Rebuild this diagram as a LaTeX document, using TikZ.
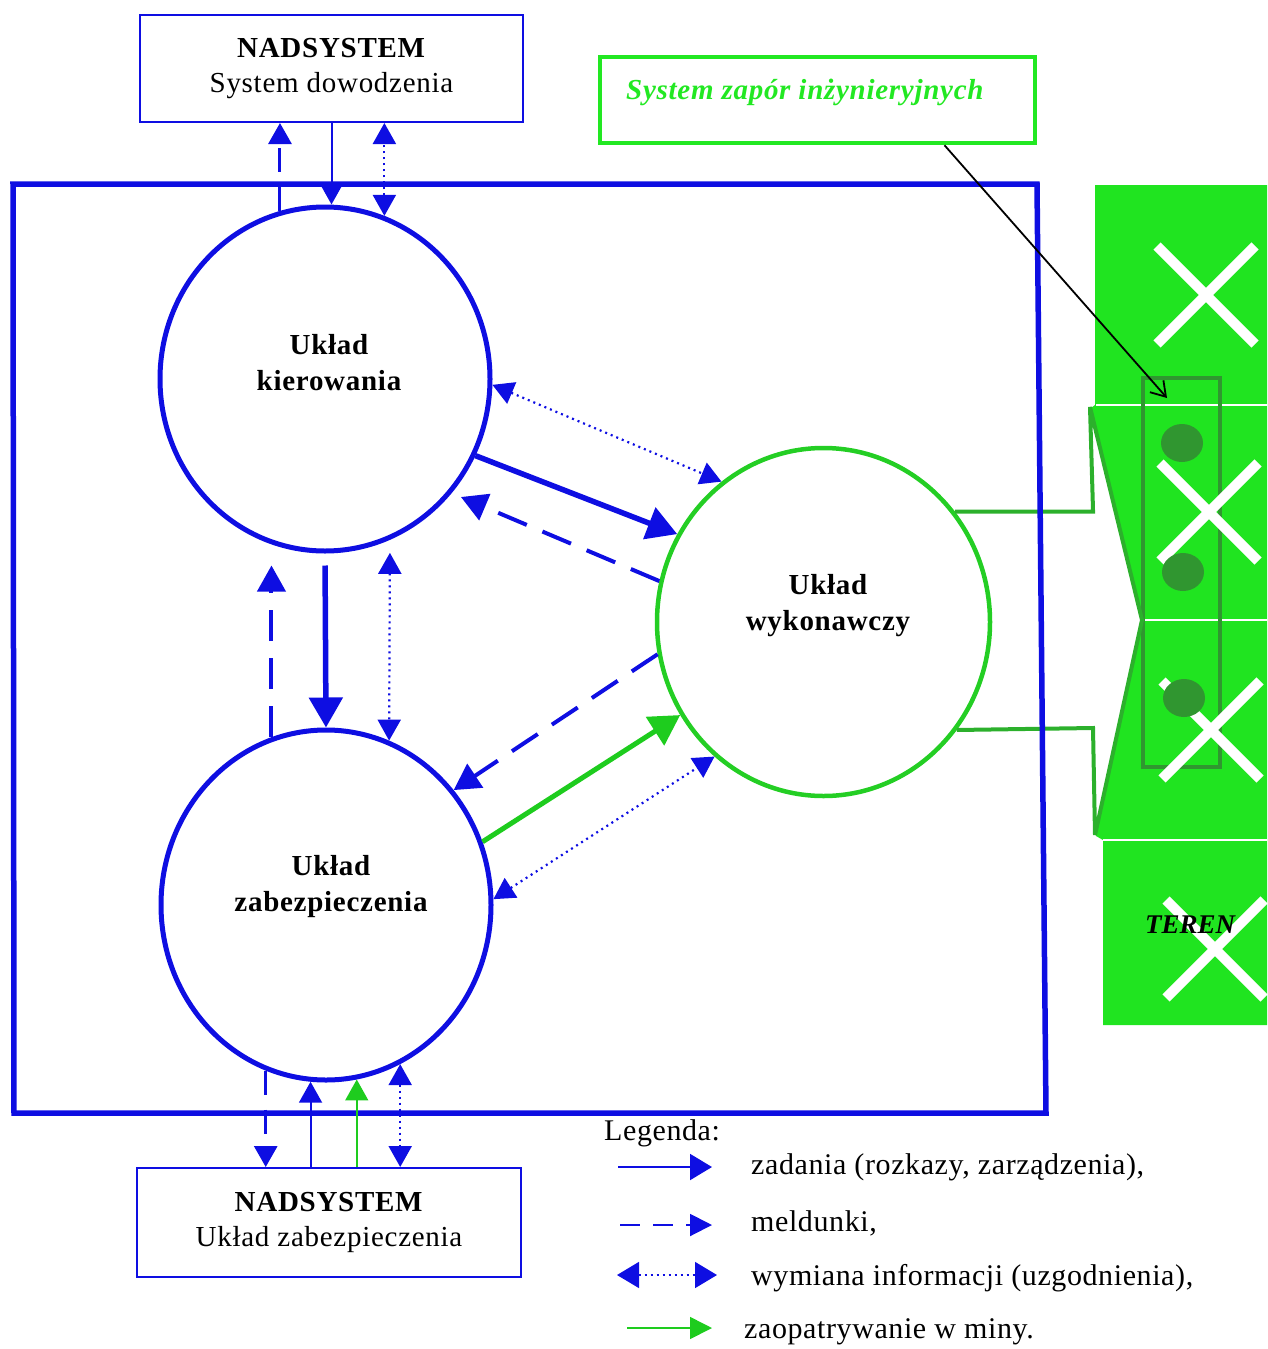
\documentclass[tikz,border=0pt]{standalone}
\usepackage{fontspec}
\setmainfont{Liberation Serif}[LetterSpace=2.5]
\usetikzlibrary{arrows.meta,shapes.geometric}

\definecolor{linkblue}{RGB}{14,14,226}
\definecolor{unitgreen}{RGB}{36,206,36}
\definecolor{framegreen}{RGB}{34,232,34}
\definecolor{terraingreen}{RGB}{32,228,32}
\definecolor{wedgegreen}{RGB}{44,176,44}
\definecolor{minegreen}{RGB}{48,150,48}
\definecolor{supplygreen}{RGB}{30,204,30}

\tikzset{
  headS/.tip={Triangle[length=21pt,width=23pt]},
  headM/.tip={Triangle[length=26pt,width=28pt]},
  headL/.tip={Triangle[length=30pt,width=33pt]},
  unit/.style={ellipse, draw=linkblue, line width=5pt, inner sep=0pt,
               minimum width=330pt, minimum height=344pt},
  unitname/.style={font=\bfseries\fontsize{29}{36}\selectfont, align=center, inner sep=0pt},
  supersys/.style={draw=linkblue, line width=2pt, minimum width=383pt, minimum height=107pt,
                   align=center, inner sep=0pt, font=\fontsize{29}{35}\selectfont},
  order/.style={draw=linkblue, fill=linkblue, line width=2pt, -{headS}},
  orderbig/.style={draw=linkblue, fill=linkblue, line width=5.5pt, -{headL}},
  report/.style={draw=linkblue, line width=3pt, dash pattern=on 24pt off 15pt, -{headS}},
  reportbig/.style={draw=linkblue, line width=4pt, dash pattern=on 31pt off 17pt, -{headM}},
  exchange/.style={draw=linkblue, line width=2.2pt, dash pattern=on 2pt off 4pt, {headS}-{headS}},
  supplybig/.style={draw=supplygreen, line width=5pt, -{headL}},
  supply/.style={draw=supplygreen, line width=1.6pt, -{headS}},
  legendtext/.style={anchor=west, inner sep=0pt,
                     font=\fontsize{30}{34}\selectfont\addfontfeature{LetterSpace=2}},
}

\begin{document}
\begin{tikzpicture}[x=1pt,y=-1pt]
\useasboundingbox (0,0) rectangle (1267,1349);

% terrain strip with the minefield
\fill[terraingreen] (1095,185) -- (1267,185) -- (1267,1025) -- (1103,1025) -- (1103,840)
  -- (1096,836) -- (1142,620) -- (1091,408) -- (1095,405) -- cycle;
\draw[white, line width=2pt] (1096,405) -- (1267,405);
\draw[white, line width=2pt] (1142,620) -- (1267,620);
\draw[white, line width=2pt] (1103,840) -- (1267,840);
\node[draw=minegreen, line width=4pt, minimum width=77pt, minimum height=389pt, inner sep=0pt]
  (minefield) at (1181.5,572.5) {};
\foreach \cx/\cy in {1206/295, 1209/512, 1211/730, 1215/949}
  \draw[white, line width=10pt] ({\cx-49},{\cy-49}) -- ({\cx+49},{\cy+49})
                                ({\cx-49},{\cy+49}) -- ({\cx+49},{\cy-49});
\foreach \mx/\my in {1182/443, 1183/572, 1184/698}
  \fill[minegreen] (\mx,\my) ellipse [x radius=21pt, y radius=19pt];
\node[font=\bfseries\itshape\fontsize{27}{30}\selectfont, inner sep=0pt] (teren) at (1190,925)
  {\addfontfeature{LetterSpace=0}TEREN};

% units
\node[unit] (kier) at (325,379) {};
\node[unit, minimum height=350pt, minimum width=330pt] (zab) at (326,905) {};
\node[unit, draw=unitgreen, line width=4.5pt, minimum width=333pt, minimum height=348pt] (wyk) at (823.5,622) {};
\node[unitname] (kierlbl) at (329,363) {Układ\\kierowania};
\node[unitname] (zablbl) at (331,887) {Układ\\zabezpieczenia};
\node[unitname] (wyklbl) at (828,606) {Układ\\wykonawczy};

% the executive unit pushing into the terrain
\draw[wedgegreen, line width=4pt, line join=miter, miter limit=3] (wyk.40) -- ++(138,0) -- (1090,407)
  -- (1142,620) -- (1095,835) -- (1093,728) -- (wyk.-39);

% system boundary
\draw[linkblue, line width=5.5pt] (13,184) -- (1037,184) -- (1046,1113) -- (14,1113) -- cycle;

% higher-level systems
\node[supersys] (topbox) at (331.5,68.5) {\textbf{NADSYSTEM}\\System dowodzenia};
\node[supersys, minimum width=384pt, minimum height=109pt] (botbox) at (329,1222.5)
  {\textbf{NADSYSTEM}\\Układ zabezpieczenia};

% engineering obstacle system
\node[draw=framegreen, line width=4.5pt, minimum width=435pt, minimum height=86pt, inner sep=0pt]
  (sysz) at (817.5,100) {};
\node[anchor=west, inner sep=0pt, text=framegreen, font=\bfseries\itshape\fontsize{29}{32}\selectfont]
  (syszlbl) at (626,92) {System zapór inżynieryjnych};
\coordinate (minetip) at (1167,398);
\draw[black, line width=1.8pt, -{Straight Barb[length=14pt,width=18pt]}]
  ([xshift=127pt]sysz.south) -- (minetip);

% links with the command system
\draw[report] (kier.105) -- (kier.105 |- topbox.south);
\draw[order] (topbox.south) -- (topbox.south |- kier.north);
\draw[exchange] (kier.70) -- (kier.70 |- topbox.south);

% links between control and security
\draw[reportbig, shorten >=12pt] (zab.108) -- (zab.108 |- kier.south);
\draw[orderbig, shorten <=12pt] (kier.south) -- (zab.north);
\draw[exchange, shorten <=13pt] (kier.-68) -- (zab.69);

% links between control and execution
\draw[exchange] (kier.-2) -- (wyk.126);
\draw[orderbig] (kier.-27) -- (wyk.149);
\draw[reportbig, shorten >=10pt] (wyk.166) -- (kier.-42);

% links between execution and security
\draw[reportbig] (wyk.191) -- (zab.42);
\draw[supplybig] (zab.22) -- (wyk.213);
\draw[exchange] (zab.2) -- (wyk.231);

% links with the security supersystem
\draw[report] (zab.250) -- (zab.250 |- botbox.north);
\draw[order] (botbox.north -| zab.265) -- (zab.265);
\draw[supply] (botbox.north -| zab.280) -- (zab.280);
\draw[exchange] (zab.295) -- (zab.295 |- botbox.north);

% legend
\node[legendtext] (legtitle) at (604,1133) {Legenda:};
\coordinate (l1a) at (618,1167); \coordinate (l1b) at (712,1167);
\coordinate (l2a) at (620,1225); \coordinate (l2b) at (712,1225);
\coordinate (l3a) at (617,1275); \coordinate (l3b) at (717,1275);
\coordinate (l4a) at (627,1328); \coordinate (l4b) at (712,1328);
\draw[order, -{Triangle[length=22pt,width=26pt]}] (l1a) -- (l1b);
\draw[report, line width=2pt, dash pattern=on 20pt off 13pt, -{Triangle[length=22pt,width=22pt]}] (l2a) -- (l2b);
\draw[exchange, line width=1.5pt, {Triangle[length=22pt,width=26pt]}-{Triangle[length=22pt,width=26pt]}] (l3a) -- (l3b);
\draw[supply, -{Triangle[length=22pt,width=22pt]}] (l4a) -- (l4b);
\node[legendtext] (leg1) at (751,1167) {zadania (rozkazy, zarządzenia),};
\node[legendtext] (leg2) at (751,1223) {meldunki,};
\node[legendtext] (leg3) at (751,1278) {wymiana informacji (uzgodnienia),};
\node[legendtext] (leg4) at (744,1332) {zaopatrywanie w miny.};
\end{tikzpicture}
\end{document}
